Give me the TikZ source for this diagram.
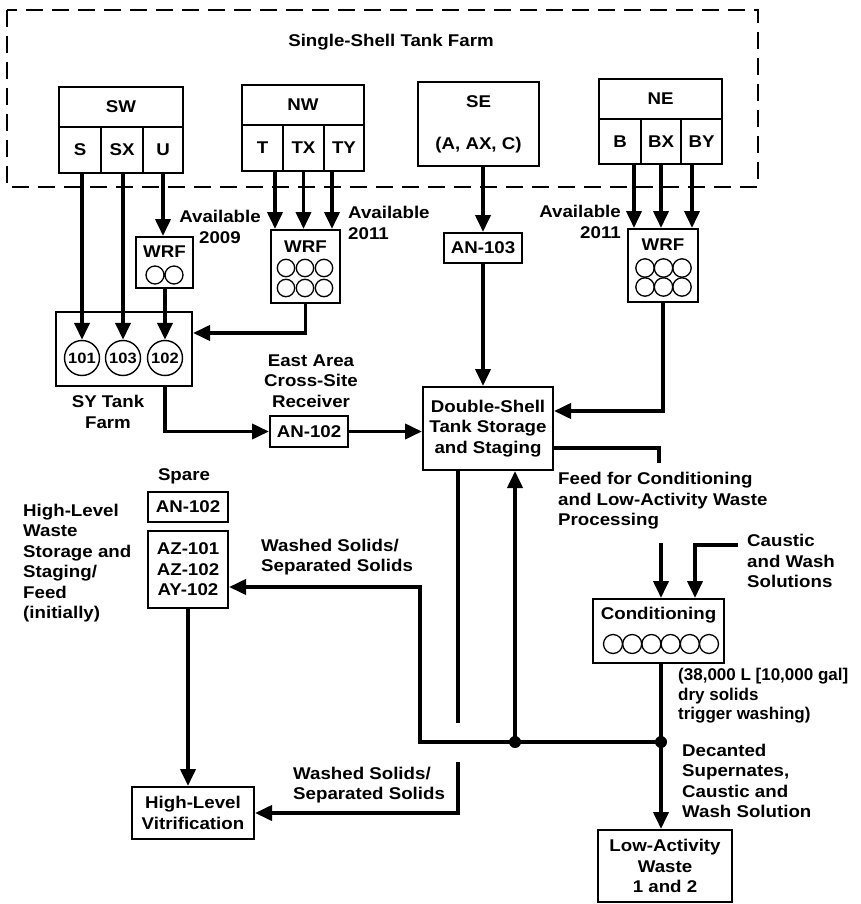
\documentclass[tikz,border=0pt]{standalone}
\usepackage{fontspec}
\setmainfont{Liberation Sans}[FakeStretch=1.1]
\newfontfamily\narrowsans{Liberation Sans}
\usetikzlibrary{arrows.meta}
\begin{document}
\begin{tikzpicture}[x=1pt,y=-1pt,
  every node/.style={font=\bfseries\fontsize{17}{20.5}\selectfont},
  box/.style={draw, line width=2pt, inner sep=0pt, align=center},
  sz/.style 2 args={minimum width=#1pt, minimum height=#2pt},
  flow/.style={line width=3.8pt, -{Triangle[length=17pt,width=15pt]}},
  pipe/.style={line width=3.8pt},
  lbl/.style={align=left, inner sep=0pt},
  clbl/.style={align=center, inner sep=0pt},
  tank/.style={draw, circle, line width=1.4pt, minimum size=35pt, inner sep=0pt, font=\bfseries\fontsize{15}{18}\selectfont},
  tk/.style={line width=1.3pt}
]
\useasboundingbox (0,0) rectangle (861,904);

% Single-shell tank farm frame
\draw[line width=2pt, dash pattern=on 17pt off 9pt] (7,10) rectangle (758,187);
\node[clbl] (ssf) at (391,42) {Single-Shell Tank Farm};

% SW
\node[box, sz={124}{40}] (SW) at (121,107) {SW};
\node[box, sz={42}{46}] (S) at (80,150) {S};
\node[box, sz={42}{46}] (SX) at (122,150) {SX};
\node[box, sz={40}{46}] (U) at (163,150) {U};
% NW
\node[box, sz={122}{40}] (NW) at (303,105) {NW};
\node[box, sz={41}{46}] (T) at (262.5,148) {T};
\node[box, sz={41}{46}] (TX) at (303.5,148) {TX};
\node[box, sz={40}{46}] (TY) at (344,148) {TY};
% SE
\node[box, sz={121}{84}] (SE) at (478.5,124) {SE\\[21.5pt](A, AX, C)};
% NE
\node[box, sz={123}{40}] (NE) at (660.5,99) {NE};
\node[box, sz={42}{45}] (B) at (620,141.5) {B};
\node[box, sz={40}{45}] (BX) at (661,141.5) {BX};
\node[box, sz={41}{45}] (BY) at (701.5,141.5) {BY};

% WRF units
\node[box, sz={57}{51}] (wrf1) at (164.5,262.5) {};
\node (wrf1t) at (164.5,252) {WRF};
\draw[tk] (155,275) circle[radius=9] (174,275) circle[radius=9];

\node[box, sz={69}{73}] (wrf2) at (305.5,266.5) {};
\node (wrf2t) at (305.5,247) {WRF};
\foreach \x in {286,305,324} \foreach \y in {268,288} \draw[tk] (\x,\y) circle[radius=8.7];

\node[box, sz={70}{73}] (wrf3) at (663,265.5) {};
\node (wrf3t) at (663,245) {WRF};
\foreach \x in {645,663.5,682} \foreach \y in {268,287} \draw[tk] (\x,\y) circle[radius=9.2];

\node[clbl] (av1) at (220,227) {Available\\2009};
\node[lbl, anchor=west] (av2) at (348,223) {Available\\2011};
\node[align=right, inner sep=0pt, anchor=east] (av3) at (621,222) {Available\\2011};

% SY tank farm
\node[box, sz={136}{74}] (SY) at (124,349) {};
\node[tank] (c101) at (82,358) {101};
\node[tank] (c103) at (123,358) {103};
\node[tank] (c102) at (165,358) {102};
\node[clbl] (sylbl) at (108,412) {SY Tank\\Farm};

% East area receiver
\node[box, sz={78}{31}] (an102) at (309,431.5) {AN-102};
\node[clbl] (ealbl) at (311,381) {East Area\\Cross-Site\\Receiver};

% SE path
\node[box, sz={78}{30}] (an103) at (483,248) {AN-103};

% Double-shell
\node[box, sz={130}{83}] (DST) at (488,428.5) {Double-Shell\\Tank Storage\\and Staging};

% HLW side
\node[clbl] (sparelbl) at (184,476) {Spare};
\node[box, sz={80}{30}] (spare) at (188,507) {AN-102};
\node[box, sz={80}{77}] (az) at (188,569.5) {AZ-101\\AZ-102\\AY-102};
\node[lbl, anchor=west] (hlwlbl) at (23,563) {High-Level\\Waste\\Storage and\\Staging/\\Feed\\(initially)};
\node[box, sz={122}{52}] (hlv) at (193,813) {High-Level\\Vitrification};
\node[lbl, anchor=west] (ws1) at (261,557) {Washed Solids/\\Separated Solids};
\node[lbl, anchor=west] (ws2) at (293,785) {Washed Solids/\\Separated Solids};

% Conditioning
\node[lbl, anchor=west] (feedlbl) at (558,501) {Feed for Conditioning\\and Low-Activity Waste\\Processing};
\node[lbl, anchor=west] (cauclbl) at (747,561) {Caustic\\and Wash\\Solutions};
\node[box, sz={131}{64}] (cond) at (658.5,631) {};
\node (condt) at (658.5,615) {Conditioning};
\foreach \i in {0,...,5} \draw[tk] ({613+19.2*\i},644) circle[radius=9.5];
\node[lbl, anchor=west, font=\narrowsans\bfseries\fontsize{17}{19.5}\selectfont] (triglbl) at (678,696) {(38,000 L [10,000 gal]\\dry solids\\trigger washing)};
\node[lbl, anchor=west] (declbl) at (682,781) {Decanted\\Supernates,\\Caustic and\\Wash Solution};
\node[box, sz={134}{72}] (law) at (665,866) {Low-Activity\\Waste\\1 and 2};

% connectors
\coordinate (xT) at (275,0);
\coordinate (xTY) at (332,0);
\coordinate (xB) at (634,0);
\coordinate (xBY) at (692,0);

\draw[flow] (c101 |- S.south) -- (c101.north);
\draw[flow] (c103 |- SX.south) -- (c103.north);
\draw[flow] (U.south) -- (U.south |- wrf1.north);
\draw[flow] (c102 |- wrf1.south) -- (c102.north);

\draw[flow] (xT |- T.south) -- (xT |- wrf2.north);
\draw[flow] (TX.south) -- (TX.south |- wrf2.north);
\draw[flow] (xTY |- TY.south) -- (xTY |- wrf2.north);
\draw[flow] (wrf2.south) |- ([yshift=16pt]SY.east);

\draw[flow] (c102 |- SY.south) |- (an102.west);
\draw[flow] (an102.east) -- (an102.east -| DST.west);

\draw[flow] (an103 |- SE.south) -- (an103.north);
\draw[flow] (an103.south) -- (an103.south |- DST.north);

\draw[flow] (xB |- B.south) -- (xB |- wrf3.north);
\draw[flow] (BX.south) -- (BX.south |- wrf3.north);
\draw[flow] (xBY |- BY.south) -- (xBY |- wrf3.north);
\draw[flow] (wrf3.south) |- ([yshift=17.5pt]DST.east);

\coordinate (feedtop) at (659,463);
\draw[pipe] ([yshift=-19.5pt]DST.east) -| (feedtop);
\coordinate (feedin) at (661,543);
\draw[flow] (feedin) -- (feedin |- cond.north);
\coordinate (caus) at (738,545);
\draw[flow] (caus) -| ([xshift=36.5pt]cond.north);

\coordinate (j1) at (661,742);
\coordinate (j2) at (515,742);
\coordinate (jc) at (420,742);
\draw[pipe] (j1 |- cond.south) -- (j1);
\draw[flow] (j1) -- (j1 |- law.north);
\draw[flow] (j1) -- (jc) |- ([yshift=-17.5pt]az.east);
\draw[flow] (j2) -- (j2 |- DST.south);
\fill (j1) circle[radius=6];
\fill (j2) circle[radius=6];

\coordinate (h1) at (458,723);
\coordinate (h2) at (458,762);
\draw[pipe] (h1 |- DST.south) -- (h1);
\draw[flow] (h2) |- (hlv.east);

\draw[flow] (az.south) -- (az.south |- hlv.north);
\end{tikzpicture}
\end{document}
